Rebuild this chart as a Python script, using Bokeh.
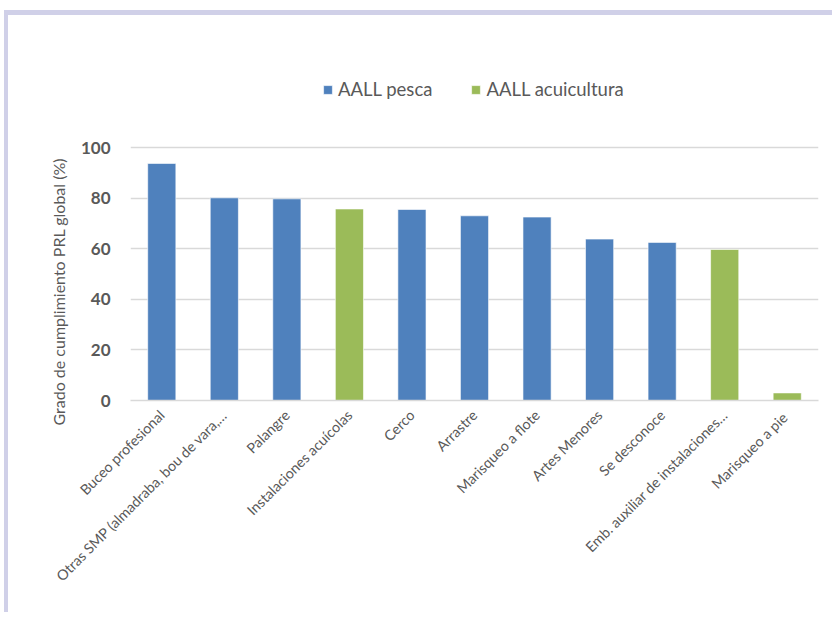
import math
from bokeh.plotting import figure
from bokeh.models import ColumnDataSource, Range1d, Legend, LegendItem, FixedTicker, Title
from bokeh.embed import file_html
from bokeh.resources import INLINE

categories = ["Buceo profesional", "Otras SMP (almadraba, bou de vara,…", "Palangre",
              "Instalaciones acuícolas", "Cerco", "Arrastre", "Marisqueo a flote",
              "Artes Menores", "Se desconoce", "Emb. auxiliar de instalaciones…",
              "Marisqueo  a pie"]
values = [93.7, 80.1, 79.7, 75.7, 75.5, 73.0, 72.5, 63.8, 62.5, 59.7, 3.0]
groups = ["AALL pesca", "AALL pesca", "AALL pesca", "AALL acuicultura", "AALL pesca",
          "AALL pesca", "AALL pesca", "AALL pesca", "AALL pesca", "AALL acuicultura",
          "AALL acuicultura"]
series_names = ["AALL pesca", "AALL acuicultura"]
series_colors = ["#4f81bd", "#9bbb59"]
y_ticks = [0, 20, 40, 60, 80, 100]
y_title = "Grado de cumplimiento PRL global (%)"

FONT = "Lato"
GREY = "#595959"

W, H = 828, 602
BOTTOM = 217     # space below the frame for category labels
FRAME_H = H - BOTTOM
PX_PER_UNIT = 2.53

p = figure(x_range=categories, y_range=Range1d(0, FRAME_H / PX_PER_UNIT),
           width=W, height=H, output_backend="svg", toolbar_location=None,
           min_border_left=122, min_border_right=18, min_border_top=0,
           min_border_bottom=BOTTOM)
p.styles = {"margin-left": "4px", "margin-top": "10px",
            "border-left": "4px solid #d0d0e8", "border-top": "5px solid #d0d0e8"}
p.outline_line_color = None

renderers = []
for name, color in zip(series_names, series_colors):
    xs = [c for c, g in zip(categories, groups) if g == name]
    ys = [v for v, g in zip(values, groups) if g == name]
    src = ColumnDataSource(dict(x=xs, top=ys))
    r = p.vbar(x="x", top="top", width=0.45, bottom=0, source=src,
               fill_color=color, line_color="white", line_alpha=0.6, line_width=1)
    renderers.append(r)

p.x_range.range_padding = 0
p.xgrid.grid_line_color = None
p.ygrid.grid_line_color = "#d9d9d9"
p.ygrid.grid_line_width = 1.5
p.yaxis.ticker = FixedTicker(ticks=y_ticks)
p.yaxis.axis_line_color = None
p.yaxis.major_tick_line_color = None
p.yaxis.minor_tick_line_color = None
p.yaxis.major_label_text_font = FONT
p.yaxis.major_label_text_font_style = "bold"
p.yaxis.major_label_text_font_size = "17px"
p.yaxis.major_label_text_color = GREY
p.yaxis.major_label_standoff = 14

p.xaxis.axis_line_color = "#d9d9d9"
p.xaxis.axis_line_width = 1.5
p.xaxis.major_tick_line_color = None
p.xaxis.minor_tick_line_color = None
p.xaxis.major_label_orientation = math.pi / 4
p.xaxis.major_label_text_font = FONT
p.xaxis.major_label_text_font_size = "14.3px"
p.xaxis.major_label_text_color = GREY
p.xaxis.major_label_standoff = 6

p.add_layout(Title(text=y_title, align="left", offset=-25,
                   text_font=FONT, text_font_size="16px",
                   text_font_style="normal", text_color=GREY, standoff=19), "left")

legend = Legend(items=[LegendItem(label=n, renderers=[r]) for n, r in zip(series_names, renderers)],
                orientation="horizontal", location=(192, FRAME_H - 85),
                glyph_width=11, glyph_height=11, label_text_font=FONT,
                label_text_font_size="18.5px", label_text_color=GREY,
                spacing=38, padding=0, margin=0, border_line_color=None,
                background_fill_alpha=0, label_standoff=5)
p.add_layout(legend, "center")

open("out.html", "w").write(file_html(p, INLINE))
